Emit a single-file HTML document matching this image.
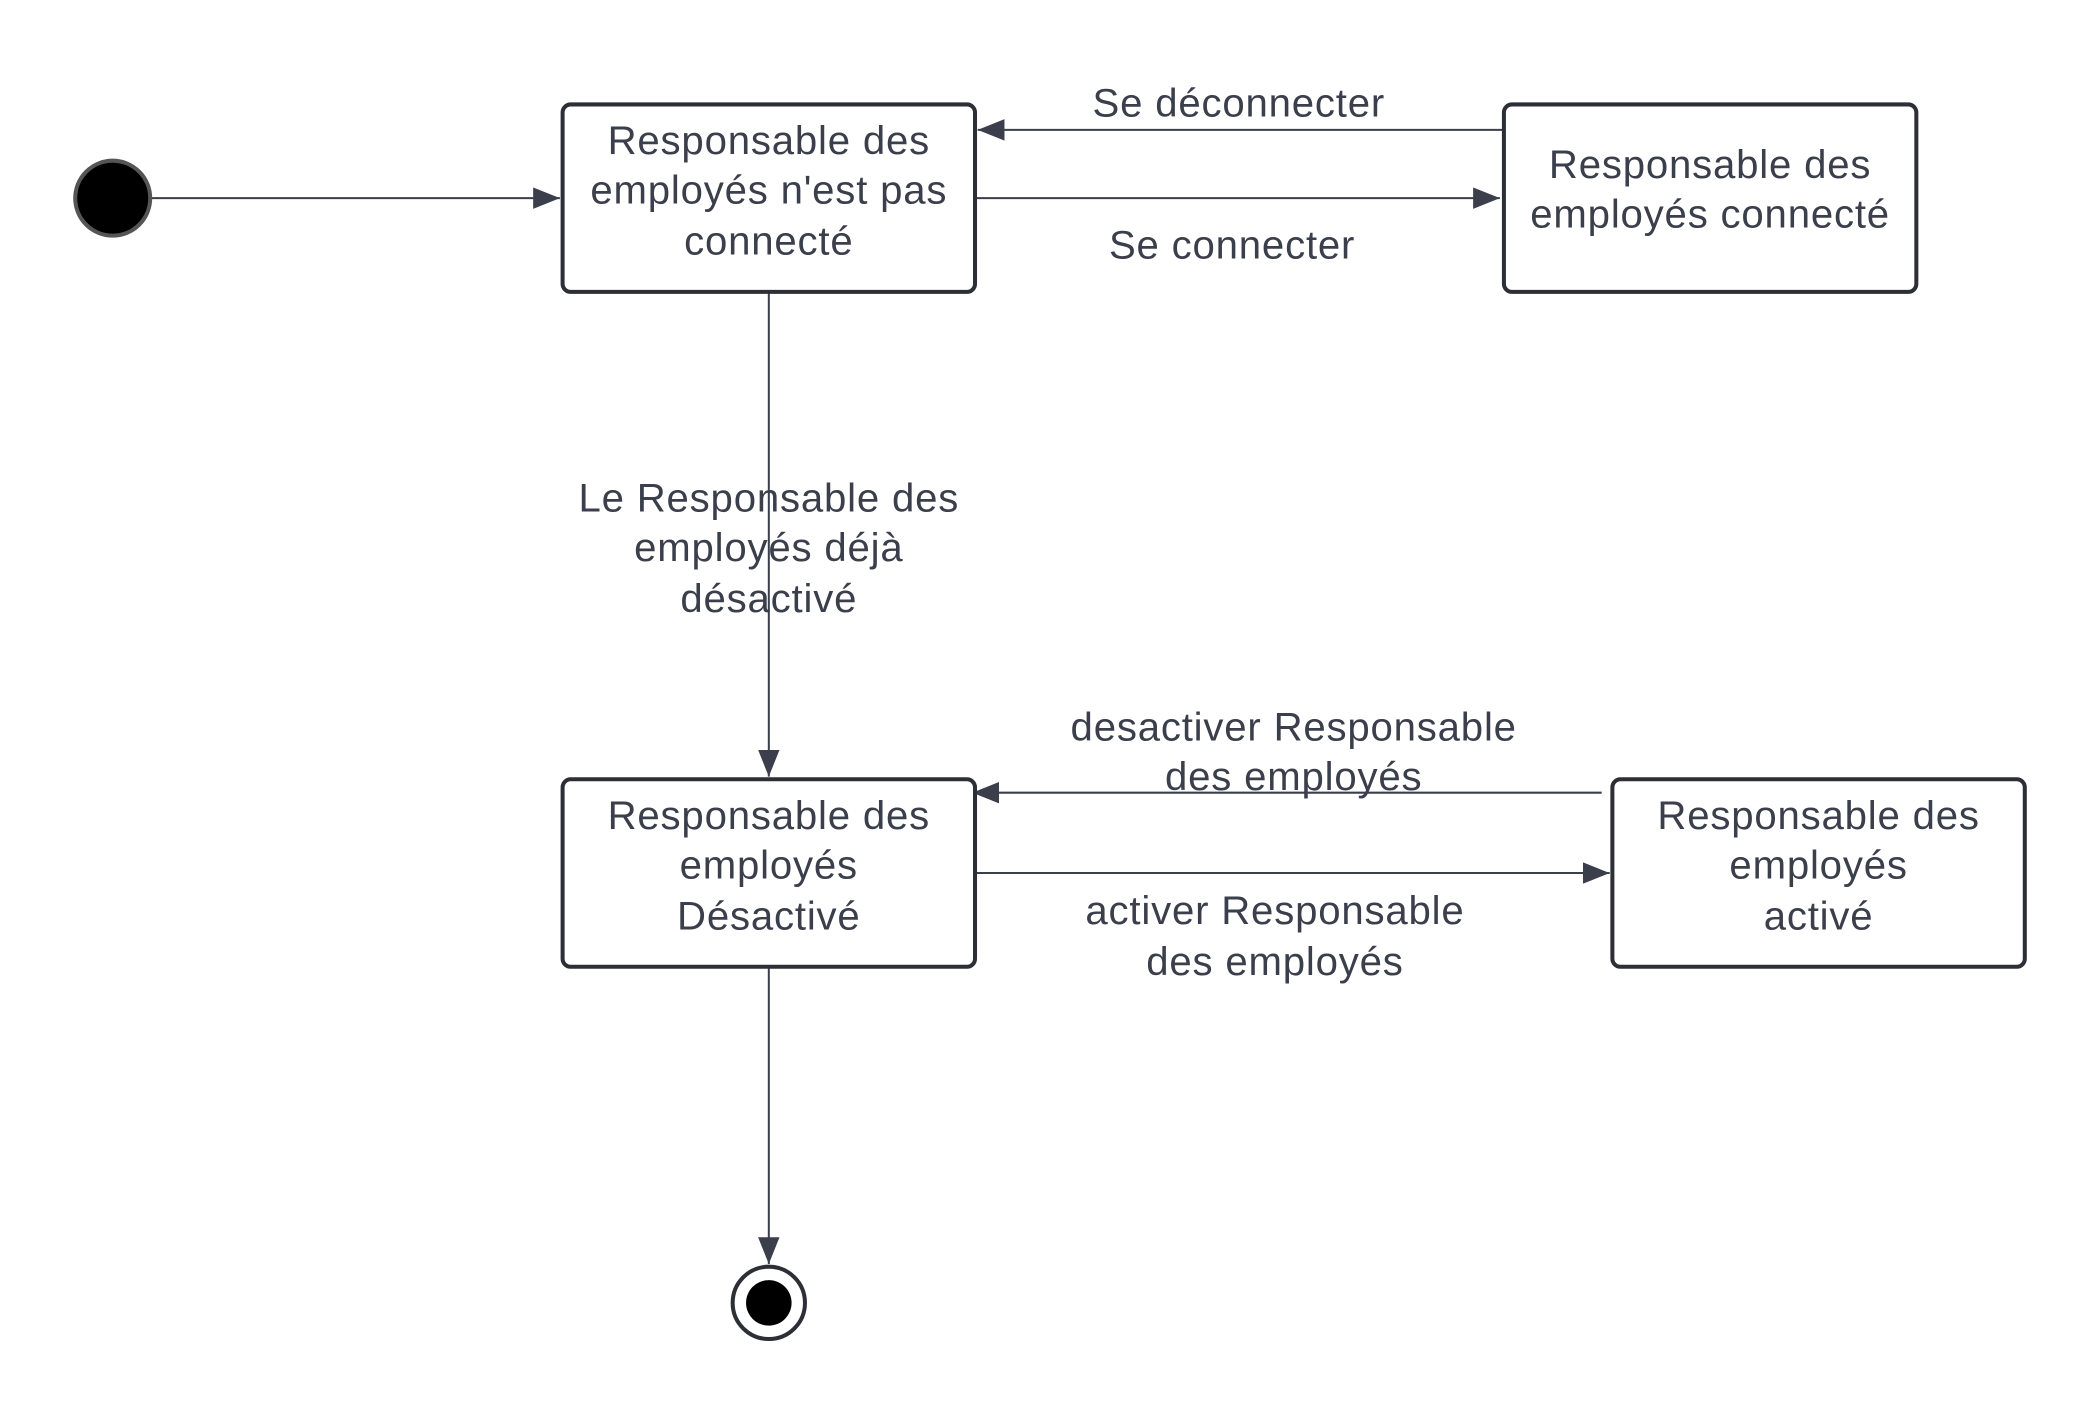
<!DOCTYPE html>
<html><head><meta charset="utf-8"><style>
html,body{margin:0;padding:0;background:#fff;}
svg{display:block;}
text{font-family:"Liberation Sans",sans-serif;font-size:30px;letter-spacing:0.6px;fill:#3a3f4b;text-anchor:middle;}
</style></head><body>
<svg width="2100" height="1418" viewBox="0 0 1568 1059" xmlns="http://www.w3.org/2000/svg">
<defs>
<marker id="b" markerWidth="20" markerHeight="16" refX="20" refY="8" orient="auto" markerUnits="userSpaceOnUse"><path d="M0,0 L20,8 L0,16 z" fill="#3a3f4b"/></marker></defs>
<g stroke="#3a3f4b" stroke-width="1.5" fill="none">
<line x1="112" y1="148" x2="418" y2="148" marker-end="url(#b)"/>
<line x1="1122" y1="97" x2="730" y2="97" marker-end="url(#b)"/>
<line x1="728" y1="148" x2="1120" y2="148" marker-end="url(#b)"/>
<line x1="574" y1="218" x2="574" y2="580" marker-end="url(#b)"/>
<line x1="1196" y1="592" x2="726" y2="592" marker-end="url(#b)"/>
<line x1="728" y1="652" x2="1202" y2="652" marker-end="url(#b)"/>
<line x1="574" y1="722" x2="574" y2="944" marker-end="url(#b)"/>
</g>
<g stroke="#2c2f36" stroke-width="3" fill="#fff">
<rect x="420" y="78" width="308" height="140" rx="6"/>
<rect x="1123" y="78" width="308" height="140" rx="6"/>
<rect x="420" y="582" width="308" height="140" rx="6"/>
<rect x="1204" y="582" width="308" height="140" rx="6"/>
</g>
<circle cx="84" cy="148" r="28" fill="#000" stroke="#555" stroke-width="3"/>
<circle cx="574" cy="973" r="27" fill="#fff" stroke="#2c2f36" stroke-width="3"/>
<circle cx="574" cy="973" r="17" fill="#000"/>
<text x="574" y="115">Responsable des</text>
<text x="574" y="152">employés n'est pas</text>
<text x="574" y="190">connecté</text>
<text x="1277" y="133">Responsable des</text>
<text x="1277" y="170">employés connecté</text>
<text x="574" y="619">Responsable des</text>
<text x="574" y="656">employés</text>
<text x="574" y="694">Désactivé</text>
<text x="1358" y="619">Responsable des</text>
<text x="1358" y="656">employés</text>
<text x="1358" y="694">activé</text>
<text x="925" y="87">Se déconnecter</text>
<text x="920" y="193">Se connecter</text>
<text x="574" y="382">Le Responsable des</text>
<text x="574" y="419">employés déjà</text>
<text x="574" y="457">désactivé</text>
<text x="966" y="553">desactiver Responsable</text>
<text x="966" y="590">des employés</text>
<text x="952" y="690">activer Responsable</text>
<text x="952" y="728">des employés</text>
</svg>
</body></html>
